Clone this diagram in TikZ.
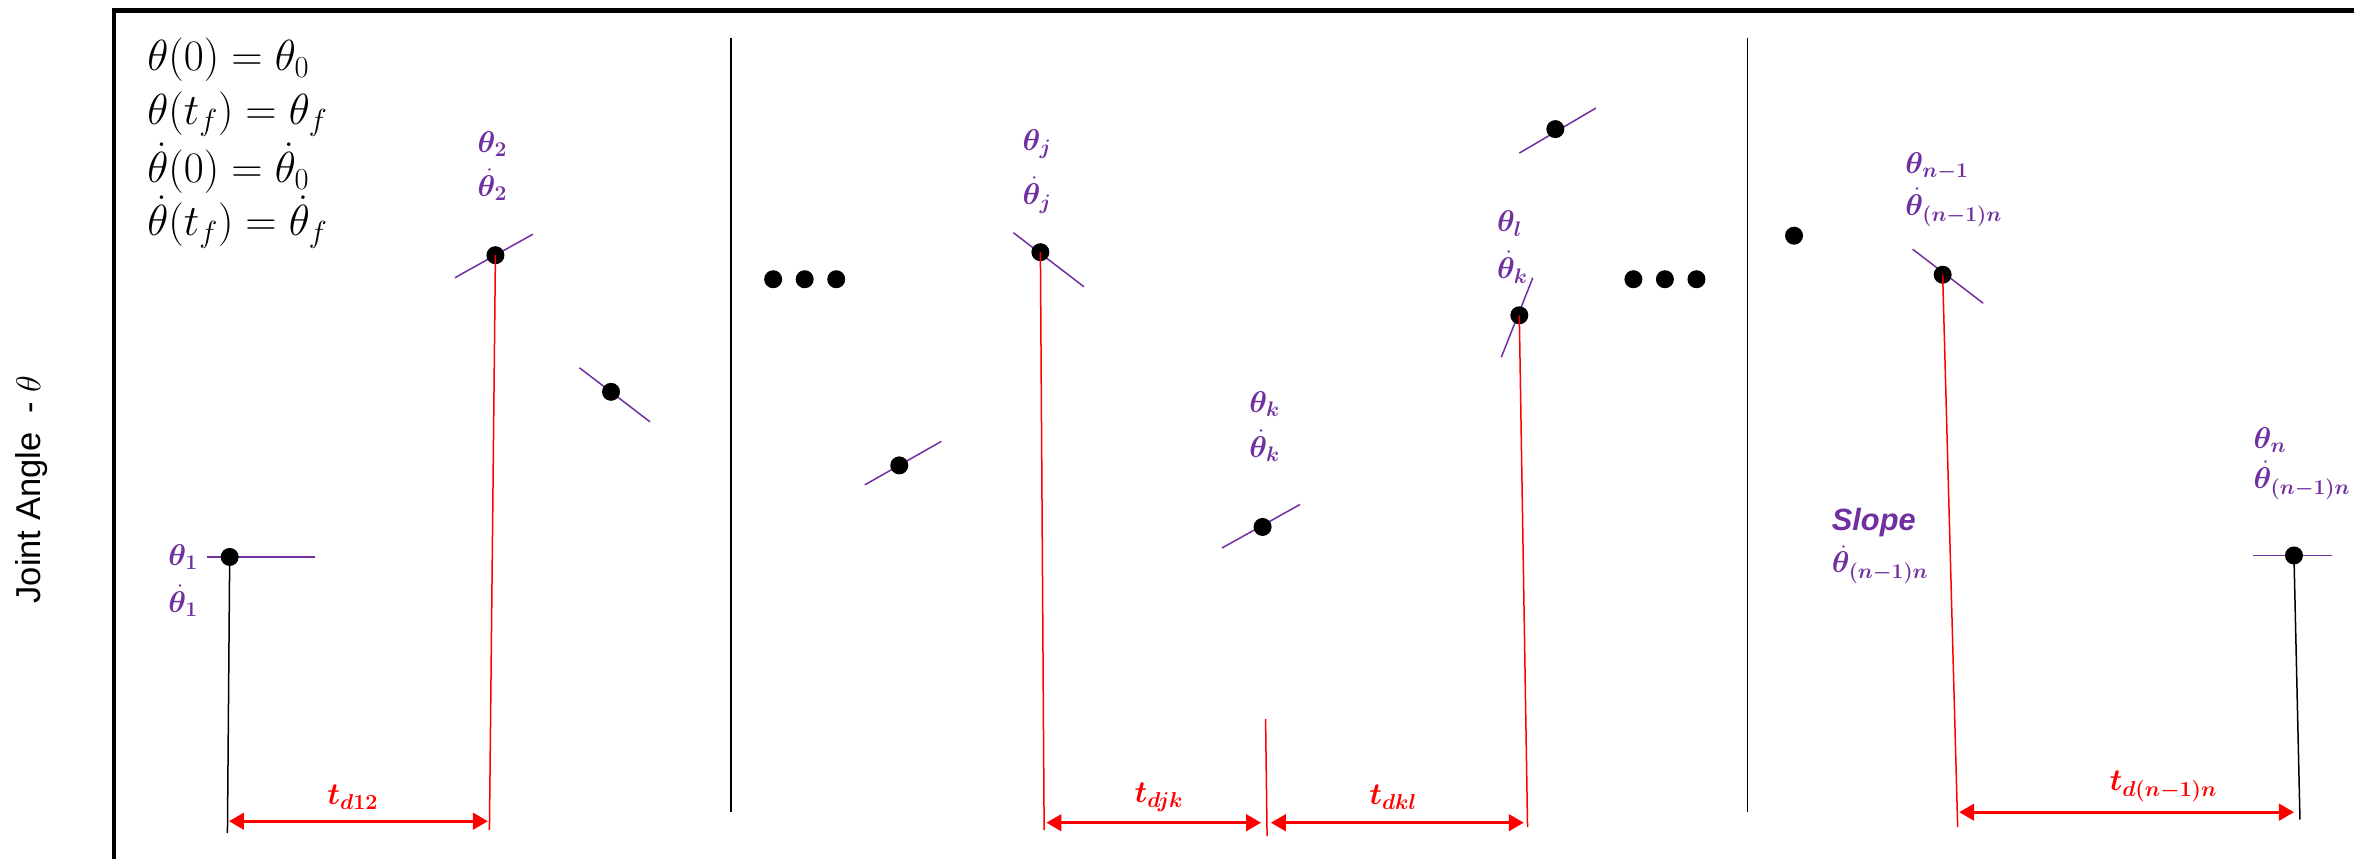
\documentclass[tikz,border=0pt]{standalone}
\RequirePackage{fix-cm}
\usepackage{amsmath,bm}
\usepackage{fontspec}
\setsansfont{Liberation Sans}
\usetikzlibrary{arrows.meta}
\definecolor{vio}{HTML}{7030A0}
\definecolor{rd}{HTML}{FF0000}
\begin{document}
\begin{tikzpicture}[x=1pt,y=-1pt,
  pt/.style={circle,fill=black,inner sep=0pt,minimum size=12pt},
  tang/.style={vio,line width=1pt},
  lab/.style={vio,font=\fontsize{20}{24}\selectfont,inner sep=0pt,anchor=west},
  eqn/.style={black,font=\fontsize{29}{34}\selectfont,inner sep=0pt,anchor=west},
  dimarrow/.style={rd,line width=2pt,{Triangle[length=10pt,width=11pt]}-{Triangle[length=10pt,width=11pt]}},
  redl/.style={rd,line width=1pt},
  blkl/.style={black,line width=1pt},
  sepl/.style={black,line width=1.2pt},
  tlab/.style={rd,font=\fontsize{20.5}{24}\selectfont,inner sep=0pt}]
\useasboundingbox (0,0) rectangle (1568,572);
\begin{scope}
\clip (0,0) rectangle (1568,572);
\draw[line width=3pt] (76,620) -- (76,7) -- (1620,7);
\end{scope}

% y label
\node[rotate=90,font=\sffamily\fontsize{23}{26}\selectfont] (ylab) at (21,326) {Joint Angle\ \ - $\theta$};

% equations
\node[eqn] (e1) at (98,40) {$\theta(0)=\theta_0$};
\node[eqn] (e2) at (98,76) {$\theta(t_f)=\theta_f$};
\node[eqn] (e3) at (98,112) {$\dot\theta(0)=\dot\theta_0$};
\node[eqn] (e4) at (98,148) {$\dot\theta(t_f)=\dot\theta_f$};

% separators
\draw[sepl] (487,25) -- (487,541);
\draw[sepl] (1164,25) -- (1164,541);

% points and tangents
\draw[tang] (138,371) -- (210,371);
\node[pt] (p1) at (153,371) {};
\draw[tang] (303,185) -- (355,156);
\node[pt] (p2) at (330,170) {};
\draw[tang] (386,245) -- (433,281);
\node[pt] (p3) at (407,261) {};
\node[pt] (d1) at (515,186) {};
\node[pt] (d2) at (536,186) {};
\node[pt] (d3) at (557,186) {};
\draw[tang] (576,323) -- (627,294);
\node[pt] (p4) at (599,310) {};
\draw[tang] (675,155) -- (722,191);
\node[pt] (pj) at (693,168) {};
\draw[tang] (814,365) -- (866,336);
\node[pt] (pk) at (841,351) {};
\draw[tang] (1012,102) -- (1063,72);
\node[pt] (pl1) at (1036,86) {};
\draw[tang] (1000,238) -- (1021,185);
\node[pt] (pl) at (1012,210) {};
\node[pt] (d4) at (1088,186) {};
\node[pt] (d5) at (1109,186) {};
\node[pt] (d6) at (1130,186) {};
\node[pt] (d7) at (1195,157) {};
\draw[tang] (1274,166) -- (1321,202);
\node[pt] (pn1) at (1294,183) {};
\draw[tang] (1501,370) -- (1553,370);
\node[pt] (pn) at (1528,370) {};

% drop lines
\coordinate (b1) at (151.5,555);
\coordinate (b2) at (326,553);
\coordinate (bj) at (695.5,553);
\coordinate (bkt) at (843,479);
\coordinate (bk) at (844,557);
\coordinate (bl) at (1017.5,551);
\coordinate (bn1) at (1304,551);
\coordinate (bn) at (1532,546);
\draw[blkl] (p1.center) -- (b1);
\draw[redl] (p2.center) -- (b2);
\draw[redl] (pj.center) -- (bj);
\draw[redl] (bkt) -- (bk);
\draw[redl] (pl.center) -- (bl);
\draw[redl] (pn1.center) -- (bn1);
\draw[blkl] (pn.center) -- (bn);

% dimension arrows
\coordinate (a1) at (152.5,547); \coordinate (a2) at (325,547);
\coordinate (a3) at (697,548); \coordinate (a4) at (840,548);
\coordinate (a5) at (846.5,548); \coordinate (a6) at (1015,548);
\coordinate (a7) at (1305,541); \coordinate (a8) at (1528,541);
\draw[dimarrow] (a1) -- (a2);
\draw[dimarrow] (a3) -- (a4);
\draw[dimarrow] (a5) -- (a6);
\draw[dimarrow] (a7) -- (a8);
\node[tlab] (t12) at (235,531) {$\bm{t_{d12}}$};
\node[tlab] (tjk) at (772,531) {$\bm{t_{djk}}$};
\node[tlab] (tkl) at (928,531) {$\bm{t_{dkl}}$};
\node[tlab] (tn) at (1441,524) {$\bm{t_{d(n-1)n}}$};

% purple labels
\node[lab] (l1a) at (112,371) {$\bm{\theta_1}$};
\node[lab] (l1b) at (112,400) {$\bm{\dot\theta_1}$};
\node[lab] (l2a) at (318,96) {$\bm{\theta_2}$};
\node[lab] (l2b) at (318,123) {$\bm{\dot\theta_2}$};
\node[lab] (lja) at (681,96) {$\bm{\theta_j}$};
\node[lab] (ljb) at (681,130) {$\bm{\dot\theta_j}$};
\node[lab] (lka) at (832,269) {$\bm{\theta_k}$};
\node[lab] (lkb) at (832,297) {$\bm{\dot\theta_k}$};
\node[lab] (lla) at (997,149) {$\bm{\theta_l}$};
\node[lab] (llb) at (997,178) {$\bm{\dot\theta_k}$};
\node[lab] (lna) at (1269,111) {$\bm{\theta_{n-1}}$};
\node[lab] (lnb) at (1269,138) {$\bm{\dot\theta_{(n-1)n}}$};
\node[lab,font=\sffamily\bfseries\itshape\fontsize{20.5}{24}\selectfont] (sla) at (1220,348) {Slope};
\node[lab] (slb) at (1220,376) {$\bm{\dot\theta_{(n-1)n}}$};
\node[lab] (lza) at (1501,293) {$\bm{\theta_n}$};
\node[lab] (lzb) at (1501,320) {$\bm{\dot\theta_{(n-1)n}}$};
\end{tikzpicture}
\end{document}
